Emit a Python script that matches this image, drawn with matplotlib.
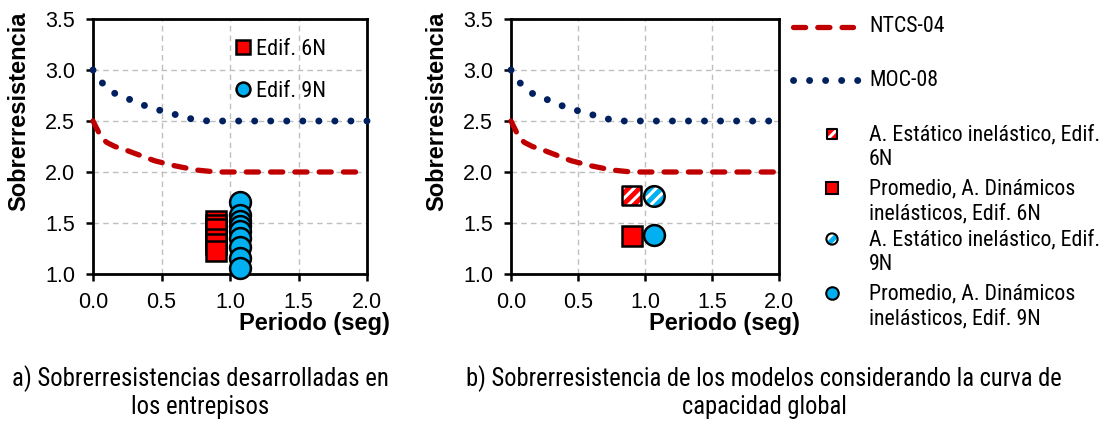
import matplotlib
matplotlib.use("Agg")
import matplotlib.pyplot as plt
from matplotlib.lines import Line2D
from matplotlib import font_manager as fm

# ---------------- data ----------------
ntcs_T = [0.0, 0.03, 0.06, 0.10, 0.16, 0.25, 0.35, 0.45, 0.60, 0.75, 0.90, 2.0]
ntcs_Q = [2.50, 2.42, 2.34, 2.29, 2.25, 2.21, 2.16, 2.11, 2.06, 2.02, 2.00, 2.00]
moc_T = [0.0, 0.07, 0.16, 0.27, 0.38, 0.50, 0.61, 0.72, 0.84, 2.0]
moc_Q = [3.00, 2.87, 2.77, 2.71, 2.65, 2.60, 2.56, 2.52, 2.50, 2.50]

T_6N = 0.90
T_9N = 1.07
stories_6N = [1.52, 1.48, 1.44, 1.34, 1.29, 1.23]
stories_9N = [1.71, 1.58, 1.52, 1.47, 1.42, 1.35, 1.26, 1.16, 1.06]

static_6N = 1.77
static_9N = 1.76
dyn_avg_6N = 1.37
dyn_avg_9N = 1.38

xticks = [0.0, 0.5, 1.0, 1.5, 2.0]
yticks = [1.0, 1.5, 2.0, 2.5, 3.0, 3.5]

legend_a = ["Edif. 6N", "Edif. 9N"]
legend_b = ["NTCS-04", "MOC-08",
            "A. Estático inelástico, Edif.\n6N",
            "Promedio, A. Dinámicos\ninelásticos, Edif. 6N",
            "A. Estático inelástico, Edif.\n9N",
            "Promedio, A. Dinámicos\ninelásticos, Edif. 9N"]
caption_a = "a) Sobrerresistencias desarrolladas en\nlos entrepisos"
caption_b = "b) Sobrerresistencia de los modelos considerando la curva de\ncapacidad global"

# ---------------- fonts ----------------
plt.rcParams["font.family"] = ["Liberation Sans", "DejaVu Sans"]
plt.rcParams["hatch.linewidth"] = 2.2


def find_narrow():
    pref = ["Liberation Sans", "Arial", "Roboto", "Open Sans", "Noto Sans", "Lato",
            "Inter", "DejaVu Sans"]
    found = []
    for f in fm.fontManager.ttflist:
        nm = f.name
        st = str(f.stretch).lower()
        narrowish = ("narrow" in nm.lower() or "condensed" in nm.lower()
                     or st in ("condensed", "semi-condensed", "extra-condensed"))
        if not narrowish:
            continue
        if f.style != "normal":
            continue
        try:
            w = int(f.weight)
        except Exception:
            w = 400 if str(f.weight) in ("normal", "regular", "book") else 700
        if w != 400:
            continue
        rank = len(pref)
        for i, p in enumerate(pref):
            if nm.startswith(p):
                rank = i
                break
        found.append((rank, f.fname))
    if found:
        found.sort()
        return fm.FontProperties(fname=found[0][1])
    return fm.FontProperties(family="Liberation Sans")


NARROW = find_narrow()

RED_LINE = "#C00000"
NAVY = "#002060"
RED = "#FF0000"
BLUE = "#00B0F0"

W, H = 1105, 424
fig = plt.figure(figsize=(W / 100, H / 100), dpi=100)
renderer = fig.canvas.get_renderer()


def fitted_size(s, target_w, base=15):
    t = fig.text(0, 0, s, fontproperties=NARROW, fontsize=base)
    bb = t.get_window_extent(renderer=renderer)
    t.remove()
    return base * target_w / bb.width


def px_axes(x0, y0, x1, y1):
    return fig.add_axes([x0 / W, 1 - y1 / H, (x1 - x0) / W, (y1 - y0) / H])


def style(ax):
    ax.set_xlim(0, 2)
    ax.set_ylim(1, 3.5)
    ax.set_xticks(xticks)
    ax.set_yticks(yticks)
    ax.set_xticklabels([f"{v:.1f}" for v in xticks])
    ax.set_yticklabels([f"{v:.1f}" for v in yticks])
    ax.tick_params(direction="out", length=5, width=1.8, labelsize=15.5)
    ax.tick_params(axis="x", pad=8)
    ax.tick_params(axis="y", pad=8)
    ax.grid(True, color="#BFBFBF", linestyle=(0, (4, 3)), linewidth=1)
    ax.set_axisbelow(True)
    for s in ax.spines.values():
        s.set_linewidth(2)
        s.set_color("black")
    ax.set_ylabel("Sobrerresistencia", fontsize=17, fontweight="bold")
    ax.set_xlabel("Periodo (seg)", fontsize=17, fontweight="bold")
    ax.plot(ntcs_T, ntcs_Q, color=RED_LINE, lw=3.8, linestyle=(0, (2.3, 2.3)),
            dash_capstyle="round", zorder=3, clip_on=False)
    ax.plot(moc_T, moc_Q, color=NAVY, lw=5.0, linestyle=(0, (0.01, 2.3)),
            dash_capstyle="round", zorder=3, clip_on=False)


# ---------------- panel a ----------------
ax1 = px_axes(93, 19, 367, 274)
style(ax1)
ax1.yaxis.set_label_coords(-0.228, 0.64)
ax1.xaxis.set_label_coords(0.807, -0.15)
for q in stories_6N:
    ax1.plot([T_6N], [q], marker="s", ms=14.5, mfc=RED, mec="black", mew=1.8,
             ls="none", zorder=4)
for q in stories_9N:
    ax1.plot([T_9N], [q], marker="o", ms=15, mfc=BLUE, mec="black", mew=1.8,
             ls="none", zorder=5, clip_on=False)
s_leg = fitted_size("Edif. 6N", 70)
prop_a = NARROW.copy()
prop_a.set_size(s_leg)
ha = [Line2D([], [], marker="s", ms=10, mfc=RED, mec="black", mew=1.8, ls="none"),
      Line2D([], [], marker="o", ms=10, mfc=BLUE, mec="black", mew=1.8, ls="none")]
ax1.legend(ha, legend_a, loc="upper left", bbox_to_anchor=(0.457, 0.984),
           frameon=False, handlelength=0.8, handletextpad=0.2,
           labelspacing=0.97, prop=prop_a, borderaxespad=0.3)

# ---------------- panel b ----------------
ax2 = px_axes(511, 19, 779, 274)
style(ax2)
ax2.yaxis.set_label_coords(-0.235, 0.64)
ax2.xaxis.set_label_coords(0.797, -0.15)
ax2.scatter([T_6N], [static_6N], marker="s", s=200, facecolor=RED, edgecolor="white",
            hatch="///", linewidth=0, zorder=4)
ax2.scatter([T_6N], [static_6N], marker="s", s=200, facecolor="none",
            edgecolor="black", linewidth=1.8, zorder=5)
ax2.scatter([T_9N], [static_9N], marker="o", s=220, facecolor=BLUE, edgecolor="white",
            hatch="///", linewidth=0, zorder=4)
ax2.scatter([T_9N], [static_9N], marker="o", s=220, facecolor="none",
            edgecolor="black", linewidth=1.8, zorder=5)
ax2.plot([T_6N], [dyn_avg_6N], marker="s", ms=14.5, mfc=RED, mec="black", mew=1.8,
         ls="none", zorder=4)
ax2.plot([T_9N], [dyn_avg_9N], marker="o", ms=15, mfc=BLUE, mec="black", mew=1.8,
         ls="none", zorder=4)

# ---------------- legend for panel b (pixel layout) ----------------
lax = fig.add_axes([0, 0, 1, 1], zorder=10)
lax.set_xlim(0, W)
lax.set_ylim(H, 0)
lax.axis("off")
lax.plot([793, 853], [27, 27], color=RED_LINE, lw=3.8, linestyle=(0, (2.3, 2.3)),
         dash_capstyle="round")
lax.plot([793, 862], [80, 80], color=NAVY, lw=5.0, linestyle=(0, (0.01, 2.3)),
         dash_capstyle="round")
lx = 832
lax.scatter([lx], [134], marker="s", s=60, facecolor=RED, edgecolor="white",
            hatch="///", linewidth=0)
lax.scatter([lx], [134], marker="s", s=60, facecolor="none", edgecolor="black", linewidth=1.5)
lax.plot([lx], [188], marker="s", ms=8.5, mfc=RED, mec="black", mew=1.5)
lax.scatter([lx], [239], marker="o", s=65, facecolor=BLUE, edgecolor="white",
            hatch="///", linewidth=0)
lax.scatter([lx], [239], marker="o", s=65, facecolor="none", edgecolor="black", linewidth=1.5)
lax.plot([lx], [293], marker="o", ms=9, mfc=BLUE, mec="black", mew=1.5)

tys = [27, 80, 134, 188, 239, 293]
s_b = fitted_size("A. Estático inelástico, Edif.", 231)
line_px = 26.5
lsp = line_px / (s_b * 100 / 72)
for lab, ty in zip(legend_b, tys):
    nlines = lab.count("\n") + 1
    yc = ty + (nlines - 1) * line_px / 2
    lax.text(869, yc, lab, fontproperties=NARROW, fontsize=s_b, va="center",
             ha="left", linespacing=lsp)

# ---------------- captions ----------------
s_ca = fitted_size("a) Sobrerresistencias desarrolladas en", 376)
s_cb = fitted_size("b) Sobrerresistencia de los modelos considerando la curva de", 597)
for cap, xc, sz in ((caption_a, 200, s_ca), (caption_b, 764, s_cb)):
    fig.text(xc / W, 1 - 392 / H, cap, ha="center", va="center",
             fontproperties=NARROW, fontsize=sz,
             linespacing=28 / (sz * 100 / 72))

fig.savefig("out.png", dpi=100)
